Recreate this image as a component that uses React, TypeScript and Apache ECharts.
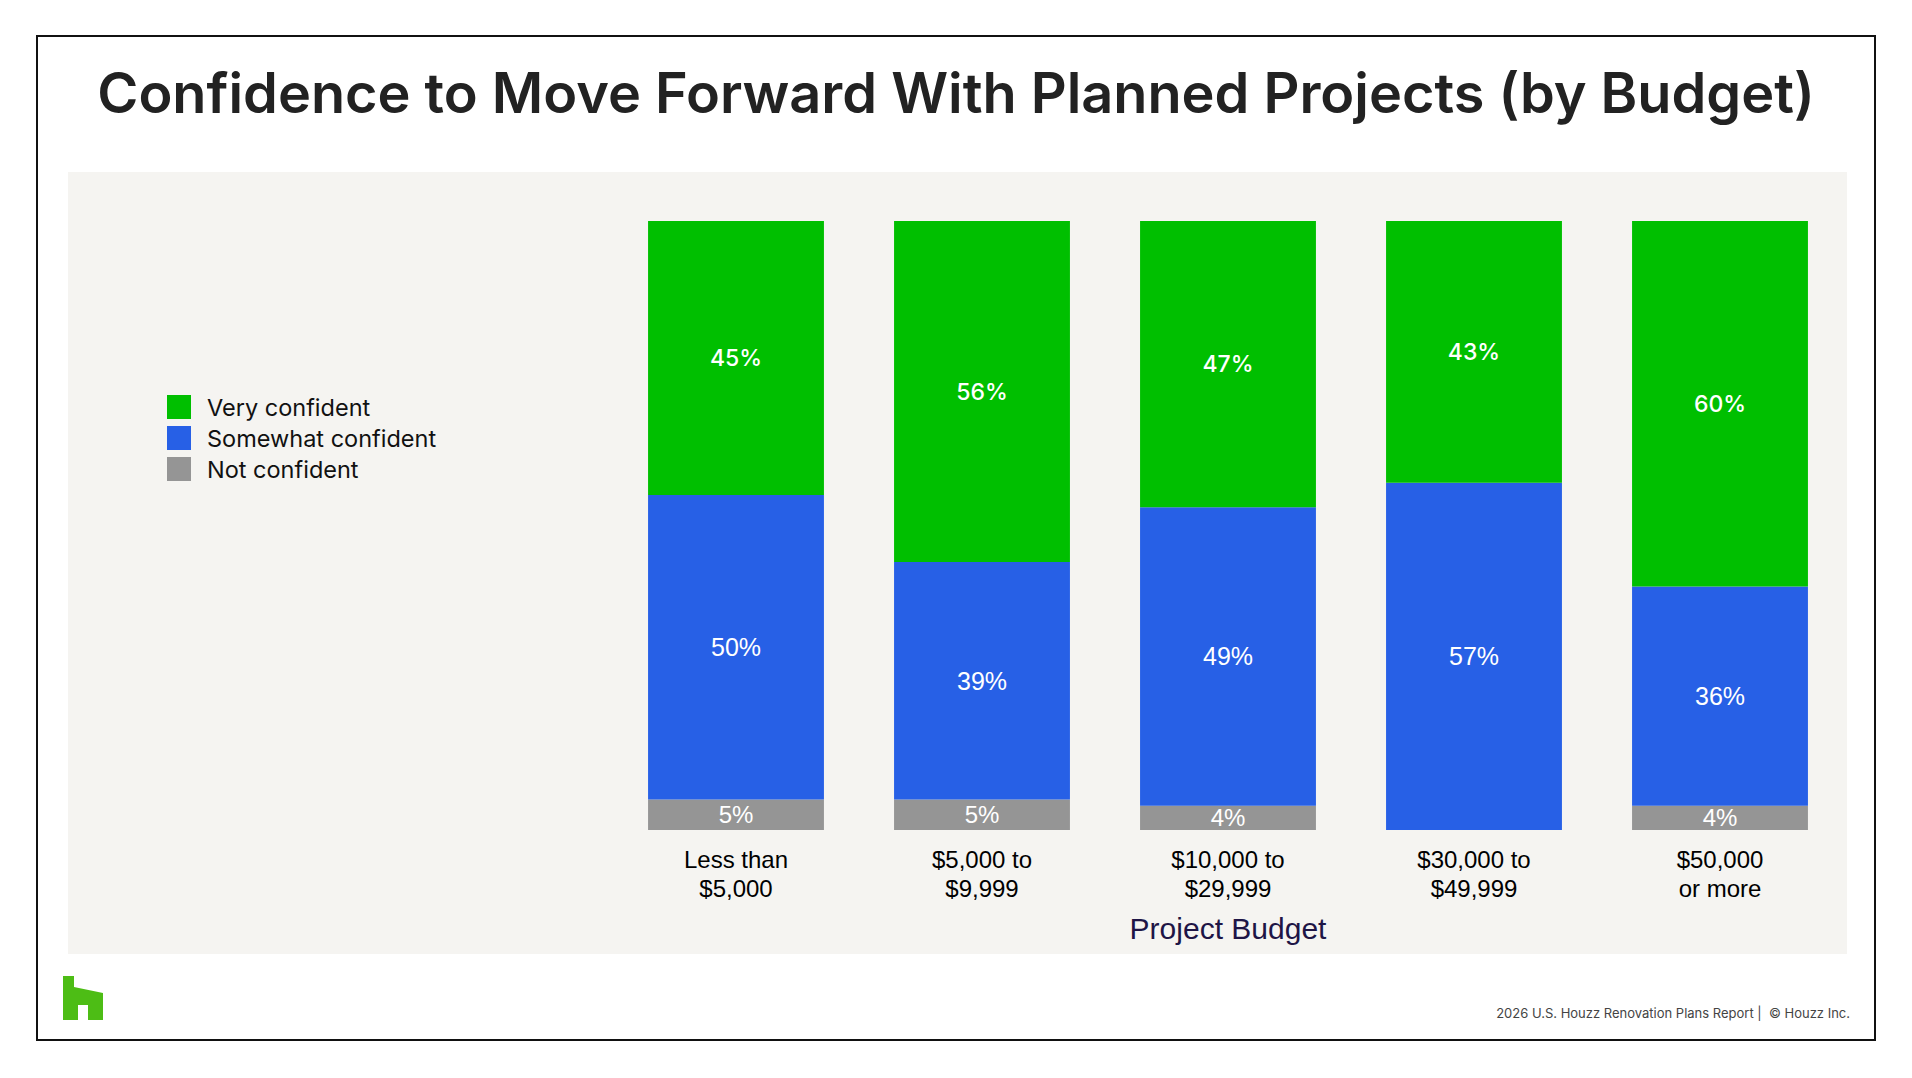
import React, { useEffect, useRef } from "react";
import * as echarts from "echarts";

const categories = [
  "Less than\n$5,000",
  "$5,000 to\n$9,999",
  "$10,000 to\n$29,999",
  "$30,000 to\n$49,999",
  "$50,000\nor more",
];
const notConfident = [5, 5, 4, 0, 4];
const somewhatConfident = [50, 39, 49, 57, 36];
const veryConfident = [45, 56, 47, 43, 60];
const seriesNames = ["Very confident", "Somewhat confident", "Not confident"];

const titleText = "Confidence to Move Forward With Planned Projects (by Budget)";
const axisName = "Project Budget";
const footerText = "2026 U.S. Houzz Renovation Plans Report |  \u00A9 Houzz Inc.";

const GREEN = "#00BF00";
const BLUE = "#2760E6";
const GRAY = "#959595";

export default function App() {
  const ref = useRef<HTMLDivElement>(null);
  useEffect(() => {
    if (!ref.current) return;
    const chart = echarts.init(ref.current, undefined, { renderer: "svg" });
    const pct = (p: any) => (p.value ? p.value + "%" : "");
    chart.setOption({
      animation: false,
      backgroundColor: "#ffffff",
      title: {
        text: titleText,
        left: "center",
        top: 59,
        textStyle: {
          fontFamily: "Inter",
          fontWeight: 600,
          fontSize: 55.8,
          color: "#222222",
        },
      },
      graphic: [
        {
          type: "rect",
          z: -10,
          silent: true,
          shape: { x: 37, y: 36, width: 1838, height: 1004 },
          style: { fill: "#ffffff", stroke: "#111111", lineWidth: 2 },
        },
        {
          type: "rect",
          z: -9,
          silent: true,
          shape: { x: 68, y: 172, width: 1779, height: 782 },
          style: { fill: "#F5F4F1" },
        },
        {
          type: "polygon",
          silent: true,
          shape: {
            points: [
              [63, 976],
              [74, 976],
              [74, 987],
              [103, 993],
              [103, 1020],
              [88, 1020],
              [88, 1005],
              [78, 1005],
              [78, 1020],
              [63, 1020],
            ],
          },
          style: { fill: "#4DBD15" },
        },
        {
          type: "text",
          silent: true,
          style: {
            text: footerText,
            x: 1850,
            y: 1013,
            align: "right",
            verticalAlign: "middle",
            fontFamily: "Inter",
            fontSize: 13,
            fill: "#444444",
          },
        },
      ],
      legend: {
        data: seriesNames,
        orient: "vertical",
        left: 162,
        top: 390,
        itemWidth: 24,
        itemHeight: 24,
        itemGap: 7,
        icon: "rect",
        selectedMode: false,
        textStyle: {
          fontFamily: "Inter",
          fontSize: 23.5,
          color: "#111111",
          padding: [0, 0, 0, 11],
        },
      },
      grid: { left: 613, right: 69, top: 221, bottom: 248, containLabel: false },
      xAxis: {
        type: "category",
        data: categories,
        axisLine: { show: false },
        axisTick: { show: false },
        axisLabel: {
          fontFamily: "Liberation Sans",
          fontSize: 24,
          lineHeight: 29,
          color: "#000000",
          margin: 15,
          interval: 0,
        },
        name: axisName,
        nameLocation: "middle",
        nameGap: 83,
        nameTextStyle: {
          fontFamily: "Liberation Sans",
          fontSize: 30,
          color: "#1E1546",
        },
      },
      yAxis: { type: "value", min: 0, max: 100, show: false },
      series: [
        {
          name: "Not confident",
          type: "bar",
          stack: "total",
          barCategoryGap: "28.5%",
          data: notConfident,
          itemStyle: { color: GRAY },
          label: {
            show: true,
            position: "inside",
            formatter: pct,
            color: "#ffffff",
            fontFamily: "Liberation Sans",
            fontSize: 24,
          },
        },
        {
          name: "Somewhat confident",
          type: "bar",
          stack: "total",
          barCategoryGap: "28.5%",
          data: somewhatConfident,
          itemStyle: { color: BLUE },
          label: {
            show: true,
            position: "inside",
            formatter: pct,
            color: "#ffffff",
            fontFamily: "Liberation Sans",
            fontSize: 25,
          },
        },
        {
          name: "Very confident",
          type: "bar",
          stack: "total",
          barCategoryGap: "28.5%",
          data: veryConfident,
          itemStyle: { color: GREEN },
          label: {
            show: true,
            position: "inside",
            formatter: pct,
            color: "#ffffff",
            fontFamily: "Inter",
            fontWeight: 500,
            fontSize: 23,
          },
        },
      ],
    });
    return () => chart.dispose();
  }, []);
  return (
    <div
      ref={ref}
      style={{ position: "fixed", left: 0, top: 0, width: 1912, height: 1078 }}
    />
  );
}
